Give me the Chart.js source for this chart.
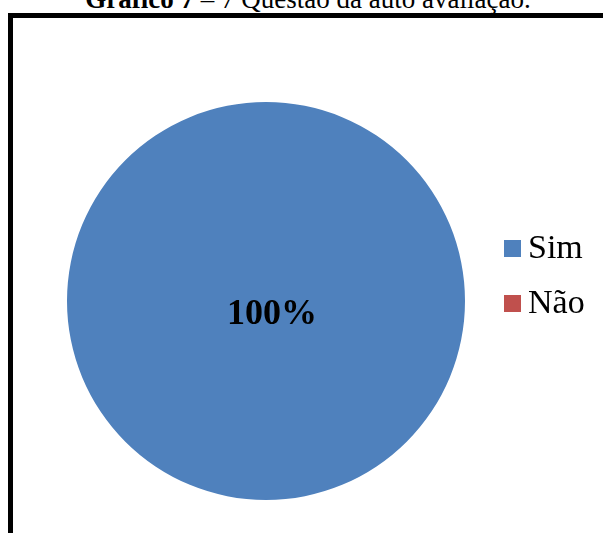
<!DOCTYPE html>
<html lang="pt">
<head>
  <meta charset="utf-8">
  <title>Gráfico 7 – Questão da auto avaliação</title>
  <style>
    * { box-sizing:border-box; margin:0; padding:0 }
    html, body { width:603px; height:533px; overflow:hidden; background:#fff; }
    body { position:relative; font-family:'Liberation Serif', 'Times New Roman', serif; }
    #title {
      position:absolute; left:0; top:-14px; width:616px; line-height:27px;
      text-align:center; font-size:27px; color:#000; white-space:nowrap;
    }
    #frame {
      position:absolute; left:8px; top:13px; width:700px; height:600px;
      border-left:5px solid #000; border-top:5px solid #000;
    }
    #chart-box { position:absolute; left:0; top:0; width:603px; height:533px; }
  </style>
</head>
<body>
  <div id="title"><b>Gráfico 7</b> – 7 Questão da auto avaliação.</div>
  <div id="frame"></div>
  <div id="chart-box"><canvas id="chart"></canvas></div>

  <script src="https://cdn.jsdelivr.net/npm/chart.js@4.4.1/dist/chart.umd.min.js"></script>
  <script>
    const categories = ['Sim', 'Não'];
    const values     = [100, 0];
    const pctLabels  = ['100%', ''];
    const colours    = ['#4F81BD', '#C0504D'];

    // rótulo de dados no centro da fatia
    const pieLabels = {
      id: 'pieLabels',
      afterDatasetsDraw(chart) {
        const ctx = chart.ctx;
        const meta = chart.getDatasetMeta(0);
        ctx.save();
        ctx.font = 'bold 36px "Liberation Serif", serif';
        ctx.fillStyle = '#000';
        ctx.textAlign = 'center';
        ctx.textBaseline = 'middle';
        meta.data.forEach((arc, i) => {
          if (!pctLabels[i]) return;
          ctx.fillText(pctLabels[i], arc.x + 6, arc.y + 14);
        });
        ctx.restore();
      }
    };

    // legenda à direita
    const sideLegend = {
      id: 'sideLegend',
      afterDraw(chart) {
        const ctx = chart.ctx;
        const ds = chart.data.datasets[0];
        ctx.save();
        ctx.font = '34px "Liberation Serif", serif';
        ctx.textBaseline = 'middle';
        ctx.textAlign = 'left';
        chart.data.labels.forEach((lab, i) => {
          const y = 248 + i * 55;
          ctx.fillStyle = ds.backgroundColor[i];
          ctx.fillRect(504, y - 8, 17, 17);
          ctx.fillStyle = '#000';
          ctx.fillText(lab, 528, y + 1);
        });
        ctx.restore();
      }
    };

    new Chart(document.getElementById('chart'), {
      type: 'pie',
      data: {
        labels: categories,
        datasets: [{
          data: values,
          backgroundColor: colours,
          borderWidth: 0
        }]
      },
      options: {
        responsive: true,
        maintainAspectRatio: false,
        animation: false,
        layout: { padding: { top: 102, bottom: 33, left: 67, right: 138 } },
        plugins: {
          legend: { display: false },
          tooltip: { enabled: false }
        }
      },
      plugins: [pieLabels, sideLegend]
    });
  </script>
</body>
</html>
